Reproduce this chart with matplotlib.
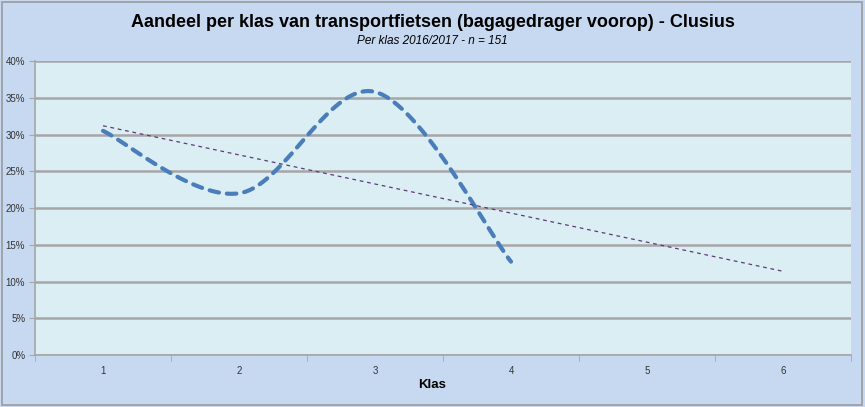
import numpy as np
import matplotlib.pyplot as plt
from matplotlib.patches import Rectangle

# data
klassen = [1, 2, 3, 4]
aandeel = [30.5, 22.0, 35.8, 12.7]
x_labels = ['1', '2', '3', '4', '5', '6']
y_ticks = [0, 5, 10, 15, 20, 25, 30, 35, 40]

plt.rcParams['font.family'] = ['Liberation Sans', 'DejaVu Sans']


def smooth(xs, ys, n=40):
    # Catmull-Rom style bezier, zoals de "vloeiende lijn" van Excel
    px = np.array(xs, dtype=float)
    py = np.array(ys, dtype=float)
    px = np.concatenate([[px[0]], px, [px[-1]]])
    py = np.concatenate([[py[0]], py, [py[-1]]])
    out_x, out_y = [], []
    t = np.linspace(0, 1, n)
    for i in range(1, len(px) - 2):
        p0 = np.array([px[i], py[i]])
        p3 = np.array([px[i + 1], py[i + 1]])
        c1 = p0 + (p3 - np.array([px[i - 1], py[i - 1]])) / 6
        c2 = p3 - (np.array([px[i + 2], py[i + 2]]) - p0) / 6
        b = ((1 - t) ** 3)[:, None] * p0 + (3 * (1 - t) ** 2 * t)[:, None] * c1 \
            + (3 * (1 - t) * t ** 2)[:, None] * c2 + (t ** 3)[:, None] * p3
        out_x.extend(b[:, 0])
        out_y.extend(b[:, 1])
    return out_x, out_y


fig = plt.figure(figsize=(8.65, 4.07), dpi=100)
fig.patch.set_facecolor('#c6d9f0')
fig.patches.append(Rectangle((0.002, 0.004), 0.994, 0.99, transform=fig.transFigure,
                             fill=False, edgecolor='#9a9a9a', lw=1.2))

ax = fig.add_axes([0.0405, 0.1278, 0.9433, 0.7222])
ax.set_facecolor('#dbeef4')

sx, sy = smooth(klassen, aandeel)
ax.plot(sx, sy, color='#4a7ebb', lw=3.0, dashes=(2.3, 1.9), dash_capstyle='round',
        solid_capstyle='round', zorder=3)

# lineaire trendlijn, 2 perioden vooruit
coef = np.polyfit(klassen, aandeel, 1)
tx = np.array([1, 6])
ax.plot(tx, np.polyval(coef, tx), color='#5e3a78', lw=0.9, dashes=(3, 3), zorder=4)

ax.set_xlim(0.5, 6.5)
ax.set_ylim(0, 40)
ax.set_yticks(y_ticks)
ax.set_yticklabels([f'{v}%' for v in y_ticks])
ax.yaxis.grid(True, color='#a6a6a6', lw=1.8)
ax.set_axisbelow(True)

ax.set_xticks(range(1, 7))
ax.set_xticklabels(x_labels)
ax.set_xticks(np.arange(0.5, 6.6, 1), minor=True)
ax.tick_params(axis='x', which='major', length=0, pad=8, labelsize=7, colors='#333333')
ax.tick_params(axis='x', which='minor', length=4, color='#a6a6a6', direction='out')
ax.tick_params(axis='y', length=4, color='#a6a6a6', labelsize=7, colors='#333333', pad=3)

for s in ['top', 'right']:
    ax.spines[s].set_visible(False)
ax.spines['left'].set_color('#a6a6a6')
ax.spines['bottom'].set_color('#a6a6a6')
ax.spines['left'].set_linewidth(1.2)
ax.spines['bottom'].set_linewidth(1.2)

fig.text(0.5, 0.945, 'Aandeel per klas van transportfietsen (bagagedrager voorop) - Clusius',
         ha='center', va='center', fontsize=13, fontweight='bold', color='black')
fig.text(0.5, 0.899, 'Per klas 2016/2017 - n = 151', ha='center', va='center',
         fontsize=8.5, style='italic', color='black')
fig.text(0.5, 0.053, 'Klas', ha='center', va='center', fontsize=9.5, fontweight='bold')

plt.savefig('out.png', dpi=100, facecolor=fig.get_facecolor())
